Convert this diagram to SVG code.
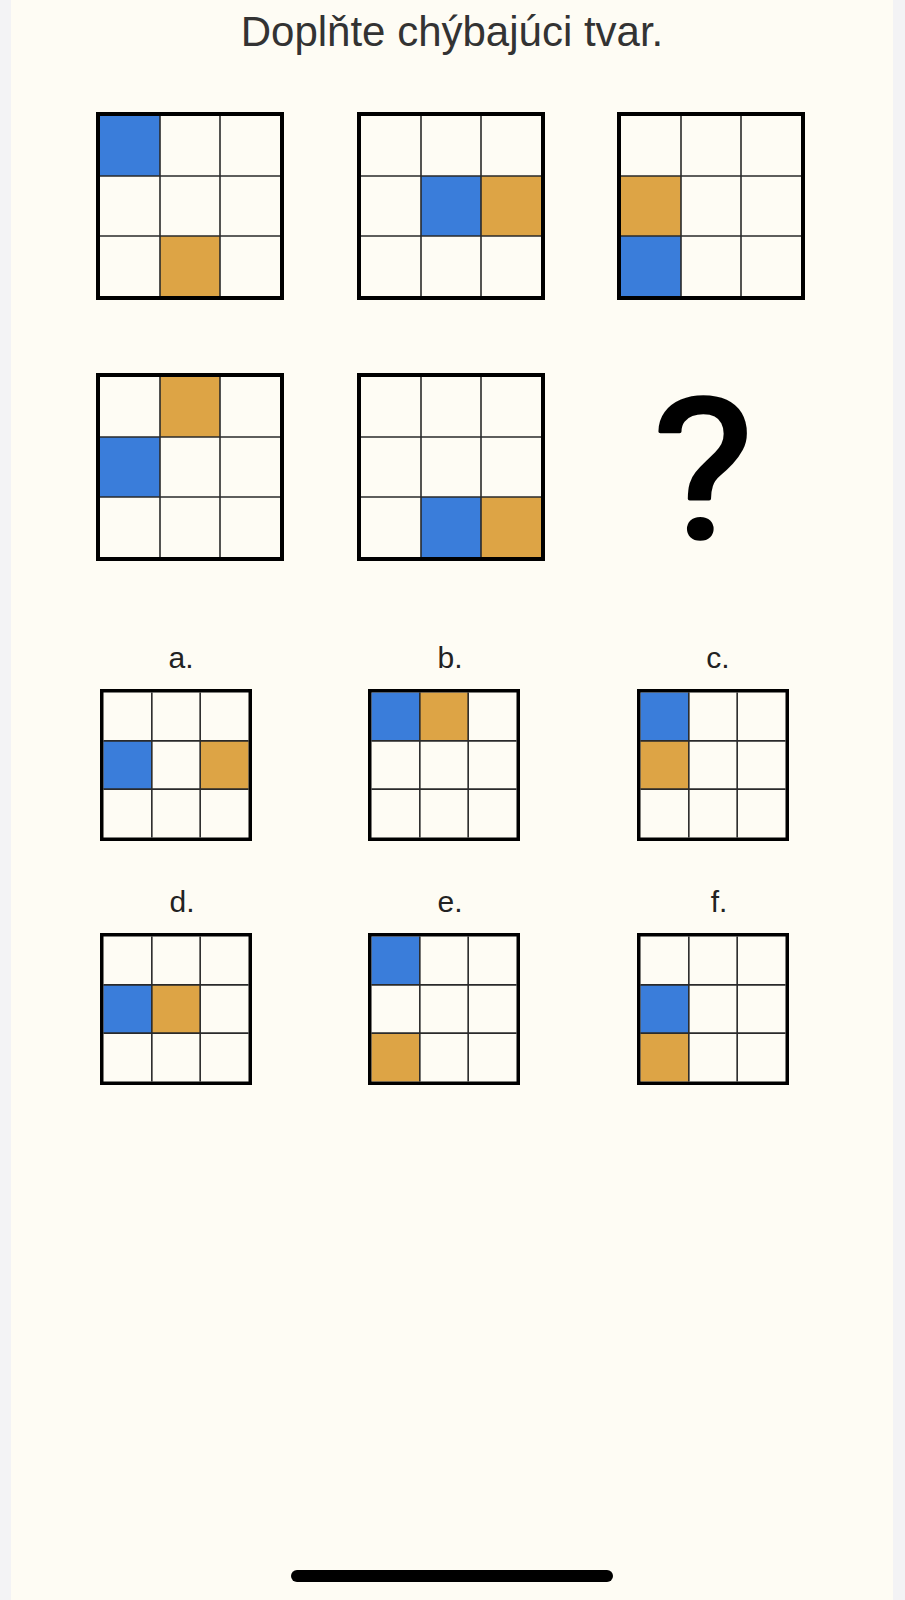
<svg xmlns="http://www.w3.org/2000/svg" xmlns:xlink="http://www.w3.org/1999/xlink" width="905" height="1600" viewBox="0 0 905 1600">
  <style>
    .title { font-family: "Liberation Sans", Arial, sans-serif; font-size: 42px; fill: #333333; }
    .lbl { font-family: "Liberation Sans", Arial, sans-serif; font-size: 30px; fill: #222222; text-anchor: middle; }
    .q { font-family: Roboto, "Liberation Sans", Arial, sans-serif; font-size: 194px; font-weight: 400; fill: #000000; stroke: #000000; stroke-width: 3.5; stroke-linejoin: round; text-anchor: middle; }
    .blue { fill: #3A7DDA; }
    .orange { fill: #DDA445; }
    .gl { stroke: #2a2a2a; stroke-width: 1.6; fill: none; }
    .bL { fill: none; stroke: #000000; stroke-width: 4; }
    .bS { fill: none; stroke: #000000; stroke-width: 3.5; }
  </style>
  <defs>
    <g id="gridL">
      <path class="gl" d="M64 4V184M124 4V184M4 64H184M4 124H184"/>
      <rect class="bL" x="2" y="2" width="184" height="184"/>
    </g>
    <g id="gridS">
      <path class="gl" d="M51.83 3.5V148.5M100.17 3.5V148.5M3.5 51.83H148.5M3.5 100.17H148.5"/>
      <rect class="bS" x="1.75" y="1.75" width="148.5" height="148.5"/>
    </g>
  </defs>

  <rect x="0" y="0" width="905" height="1600" fill="#F3F3F5"/>
  <rect x="11" y="0" width="882" height="1600" fill="#FEFCF4"/>

  <text class="title" x="452" y="46" text-anchor="middle">Doplňte chýbajúci tvar.</text>

  <g id="box1" transform="translate(96,112)">
    <rect class="blue" x="4" y="4" width="60" height="60"/>
    <rect class="orange" x="64" y="124" width="60" height="60"/>
    <use xlink:href="#gridL" href="#gridL"/>
  </g>
  <g id="box2" transform="translate(357,112)">
    <rect class="blue" x="64" y="64" width="60" height="60"/>
    <rect class="orange" x="124" y="64" width="60" height="60"/>
    <use xlink:href="#gridL" href="#gridL"/>
  </g>
  <g id="box3" transform="translate(617,112)">
    <rect class="orange" x="4" y="64" width="60" height="60"/>
    <rect class="blue" x="4" y="124" width="60" height="60"/>
    <use xlink:href="#gridL" href="#gridL"/>
  </g>
  <g id="box4" transform="translate(96,373)">
    <rect class="orange" x="64" y="4" width="60" height="60"/>
    <rect class="blue" x="4" y="64" width="60" height="60"/>
    <use xlink:href="#gridL" href="#gridL"/>
  </g>
  <g id="box5" transform="translate(357,373)">
    <rect class="blue" x="64" y="124" width="60" height="60"/>
    <rect class="orange" x="124" y="124" width="60" height="60"/>
    <use xlink:href="#gridL" href="#gridL"/>
  </g>
  <g id="question" transform="translate(703,0) scale(1.1,1) translate(-703,0)">
    <text class="q" x="703" y="538">?</text>
  </g>

  <g id="optA">
    <text class="lbl" x="181" y="668">a.</text>
    <g transform="translate(100,689)">
      <rect class="blue" x="3.5" y="51.83" width="48.33" height="48.34"/>
      <rect class="orange" x="100.17" y="51.83" width="48.33" height="48.34"/>
      <use xlink:href="#gridS" href="#gridS"/>
    </g>
  </g>
  <g id="optB">
    <text class="lbl" x="450" y="668">b.</text>
    <g transform="translate(368,689)">
      <rect class="blue" x="3.5" y="3.5" width="48.33" height="48.33"/>
      <rect class="orange" x="51.83" y="3.5" width="48.34" height="48.33"/>
      <use xlink:href="#gridS" href="#gridS"/>
    </g>
  </g>
  <g id="optC">
    <text class="lbl" x="718" y="668">c.</text>
    <g transform="translate(637,689)">
      <rect class="blue" x="3.5" y="3.5" width="48.33" height="48.33"/>
      <rect class="orange" x="3.5" y="51.83" width="48.33" height="48.34"/>
      <use xlink:href="#gridS" href="#gridS"/>
    </g>
  </g>
  <g id="optD">
    <text class="lbl" x="182" y="912">d.</text>
    <g transform="translate(100,933)">
      <rect class="blue" x="3.5" y="51.83" width="48.33" height="48.34"/>
      <rect class="orange" x="51.83" y="51.83" width="48.34" height="48.34"/>
      <use xlink:href="#gridS" href="#gridS"/>
    </g>
  </g>
  <g id="optE">
    <text class="lbl" x="450" y="912">e.</text>
    <g transform="translate(368,933)">
      <rect class="blue" x="3.5" y="3.5" width="48.33" height="48.33"/>
      <rect class="orange" x="3.5" y="100.17" width="48.33" height="48.33"/>
      <use xlink:href="#gridS" href="#gridS"/>
    </g>
  </g>
  <g id="optF">
    <text class="lbl" x="719" y="912">f.</text>
    <g transform="translate(637,933)">
      <rect class="blue" x="3.5" y="51.83" width="48.33" height="48.34"/>
      <rect class="orange" x="3.5" y="100.17" width="48.33" height="48.33"/>
      <use xlink:href="#gridS" href="#gridS"/>
    </g>
  </g>

  <g id="connectors"></g>

  <rect x="291" y="1570" width="322" height="12" rx="6" fill="#000000"/>
</svg>
